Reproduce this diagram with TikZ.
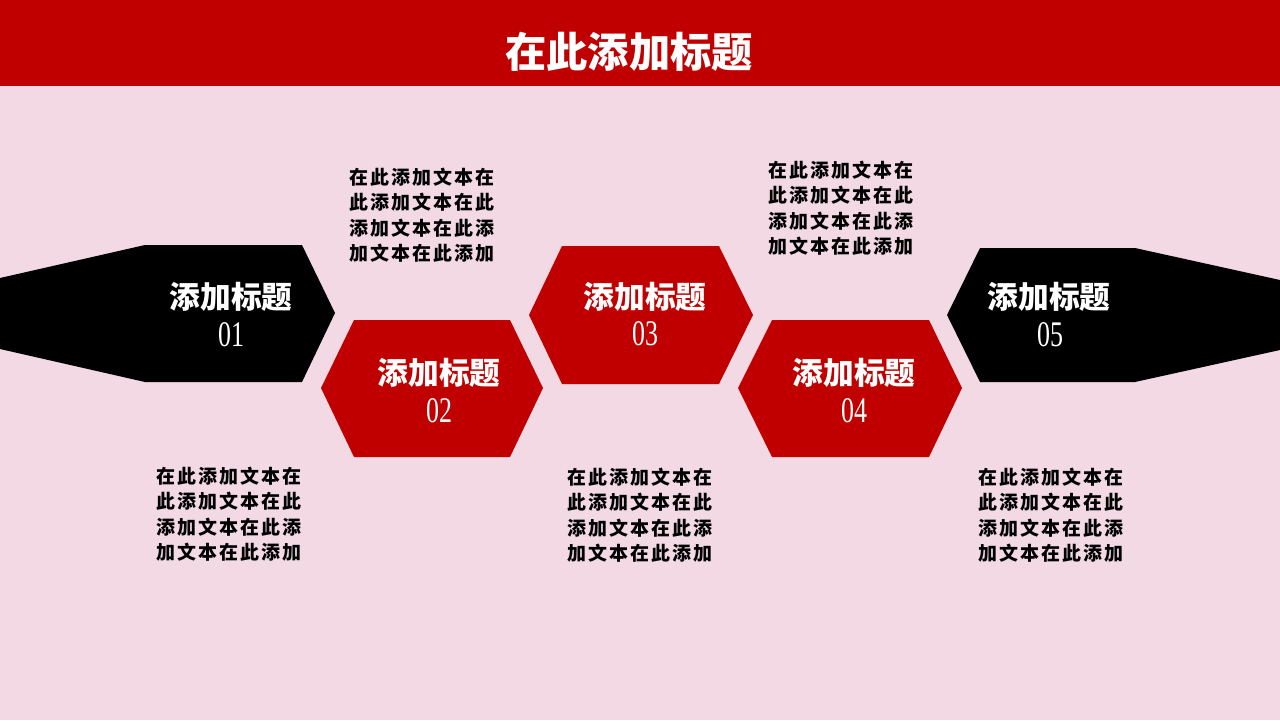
\documentclass[tikz,border=0pt]{standalone}
\usepackage{fontspec}
\setmainfont{Liberation Serif}
\newfontfamily\cjk{Noto Sans CJK SC}
\newfontfamily\cjkbody[LetterSpace=10]{Noto Sans CJK SC}
\newfontfamily\numfont[FakeStretch=0.72]{Liberation Serif}
\usetikzlibrary{positioning}
\definecolor{hdred}{HTML}{C00000}
\definecolor{bgpink}{HTML}{F2D9E4}
\tikzstyle{hexred}=[fill=hdred]
\tikzstyle{hexblack}=[fill=black]
\tikzstyle{ttl}=[text=white, font=\cjk\bfseries\fontsize{17.5}{20}\selectfont, inner sep=0pt]
\tikzstyle{num}=[text=white, font=\numfont\fontsize{20.5}{21}\selectfont, inner sep=0pt]
\tikzstyle{body}=[text=black, font=\cjkbody\bfseries\fontsize{10.8}{14.5}\selectfont, align=left, inner sep=0pt]

\begin{document}
\begin{tikzpicture}[x=0.02cm, y=-0.02cm]
\useasboundingbox (0,0) rectangle (1280,720);
\fill[bgpink] (0,0) rectangle (1280,720);
\fill[hdred] (0,0) rectangle (1280,86);
\node (Title) [text=white, font=\cjk\bfseries\fontsize{23.5}{26}\selectfont] at (629,52) {在此添加标题};
% arrows and hexagons
\fill[hexblack] (0,278) -- (145,245) -- (302,245) -- (335,313) -- (302,382) -- (145,382) -- (0,349) -- cycle;
\fill[hexred] (321,388) -- (354,320) -- (510,320) -- (543,388) -- (510,457) -- (354,457) -- cycle;
\fill[hexred] (529,315) -- (562,246) -- (719,246) -- (753,315) -- (719,384) -- (562,384) -- cycle;
\fill[hexred] (738,388) -- (772,320) -- (929,320) -- (962,388) -- (929,457) -- (772,457) -- cycle;
\fill[hexblack] (947,315) -- (980,248) -- (1135,248) -- (1280,280) -- (1280,350) -- (1135,382) -- (980,382) -- cycle;
% titles
\node (T1) [ttl] at (231,297) {添加标题};
\node (N1) [num] at (231,335) {01};
\node (T2) [ttl] at (439,373) {添加标题};
\node (N2) [num] at (439,411) {02};
\node (T3) [ttl] at (645,297) {添加标题};
\node (N3) [num] at (645,334) {03};
\node (T4) [ttl] at (854,373) {添加标题};
\node (N4) [num] at (854,411) {04};
\node (T5) [ttl] at (1049,297) {添加标题};
\node (N5) [num] at (1050,335) {05};
% text blocks
\node (B1) [body] at (229,514) {在此添加文本在\\此添加文本在此\\添加文本在此添\\加文本在此添加};
\node (B2) [body] at (422,215) {在此添加文本在\\此添加文本在此\\添加文本在此添\\加文本在此添加};
\node (B3) [body] at (640,515) {在此添加文本在\\此添加文本在此\\添加文本在此添\\加文本在此添加};
\node (B4) [body] at (841,208) {在此添加文本在\\此添加文本在此\\添加文本在此添\\加文本在此添加};
\node (B5) [body] at (1051,515) {在此添加文本在\\此添加文本在此\\添加文本在此添\\加文本在此添加};
\end{tikzpicture}
\end{document}
